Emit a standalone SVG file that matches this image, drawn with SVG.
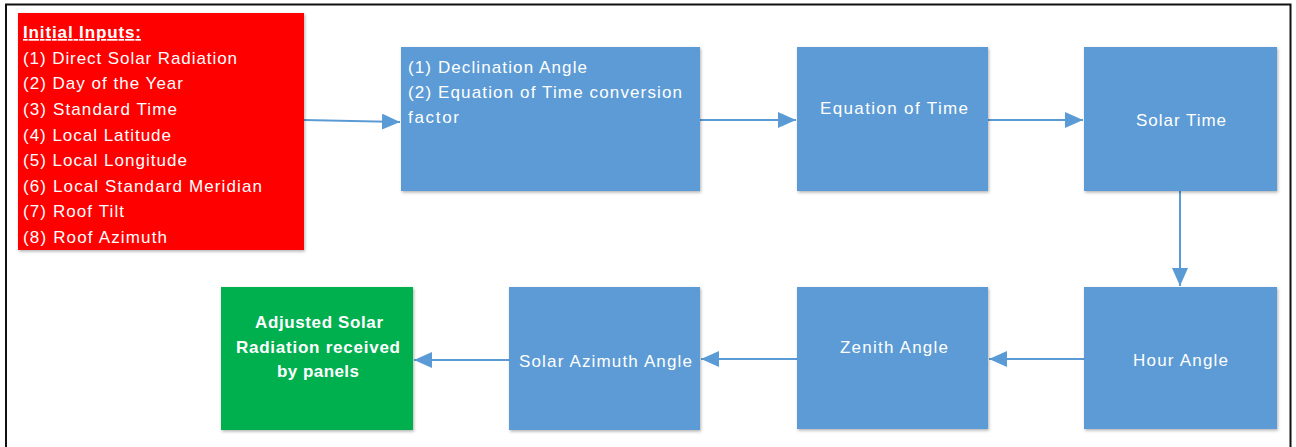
<svg xmlns="http://www.w3.org/2000/svg" width="1296" height="447" viewBox="0 0 1296 447">
<defs>
<style>
.box{filter:url(#sh);}
.blue{fill:#5b9bd5;}
.red{fill:#ff0000;}
.green{fill:#00b050;}
.t{font-family:"Liberation Sans",Arial,sans-serif;font-size:17px;fill:#ffffff;}
.b{font-weight:bold;}
.c{text-anchor:middle;}
.conn{stroke:#5b9bd5;stroke-width:2;fill:none;marker-end:url(#ah);}
</style>
<filter id="sh" x="-10%" y="-10%" width="120%" height="120%">
<feDropShadow dx="1" dy="1.5" stdDeviation="1.5" flood-color="#000" flood-opacity="0.3"/>
</filter>
<marker id="ah" markerWidth="9" markerHeight="8" refX="9" refY="4" orient="auto" markerUnits="strokeWidth">
<path d="M0,0 L9,4 L0,8 Z" fill="#5b9bd5"/>
</marker>
</defs>
<rect width="1296" height="447" fill="#ffffff"/>
<path d="M6,447 V4.5 H1290.5 V447" fill="none" stroke="#111" stroke-width="2"/>

<g id="connectors">
<path class="conn" d="M304,120 L400,122"/>
<path class="conn" d="M700,120 L796,120"/>
<path class="conn" d="M988,120 L1083,120"/>
<path class="conn" d="M1180,191 L1180,286"/>
<path class="conn" d="M1084,359 L989,359"/>
<path class="conn" d="M797,359 L701,359"/>
<path class="conn" d="M509,360 L414,360"/>
</g>

<g id="inputs">
<rect class="box red" x="18" y="13" width="286" height="237"/>
<text class="t b" x="23" y="38" textLength="118" text-decoration="underline">Initial Inputs:</text>
<text class="t" x="23" y="63.5" textLength="214">(1) Direct Solar Radiation</text>
<text class="t" x="23" y="89" textLength="160">(2) Day of the Year</text>
<text class="t" x="23" y="115" textLength="154">(3) Standard Time</text>
<text class="t" x="23" y="140.5" textLength="148">(4) Local Latitude</text>
<text class="t" x="23" y="166" textLength="164">(5) Local Longitude</text>
<text class="t" x="23" y="191.5" textLength="239">(6) Local Standard Meridian</text>
<text class="t" x="23" y="217" textLength="101">(7) Roof Tilt</text>
<text class="t" x="23" y="242.5" textLength="144">(8) Roof Azimuth</text>
</g>

<g id="declination">
<rect class="box blue" x="401" y="47" width="299" height="144"/>
<text class="t" x="408" y="73" textLength="179">(1) Declination Angle</text>
<text class="t" x="408" y="98" textLength="274">(2) Equation of Time conversion</text>
<text class="t" x="408" y="123" textLength="51">factor</text>
</g>

<g id="equation-of-time">
<rect class="box blue" x="797" y="47" width="191" height="144"/>
<text class="t c" x="894" y="114" textLength="148">Equation of Time</text>
</g>

<g id="solar-time">
<rect class="box blue" x="1084" y="47" width="193" height="144"/>
<text class="t c" x="1181" y="126" textLength="90">Solar Time</text>
</g>

<g id="hour-angle">
<rect class="box blue" x="1084" y="287" width="193" height="142"/>
<text class="t c" x="1180.5" y="366" textLength="95">Hour Angle</text>
</g>

<g id="zenith-angle">
<rect class="box blue" x="797" y="287" width="191" height="142"/>
<text class="t c" x="894" y="353" textLength="108">Zenith Angle</text>
</g>

<g id="solar-azimuth">
<rect class="box blue" x="509" y="287" width="191" height="143"/>
<text class="t c" x="605.5" y="367" textLength="173">Solar Azimuth Angle</text>
</g>

<g id="adjusted-radiation">
<rect class="box green" x="221" y="287" width="192" height="143"/>
<text class="t b c" x="319" y="328" textLength="128">Adjusted Solar</text>
<text class="t b c" x="318" y="353" textLength="164">Radiation received</text>
<text class="t b c" x="318" y="377" textLength="82">by panels</text>
</g>
</svg>
